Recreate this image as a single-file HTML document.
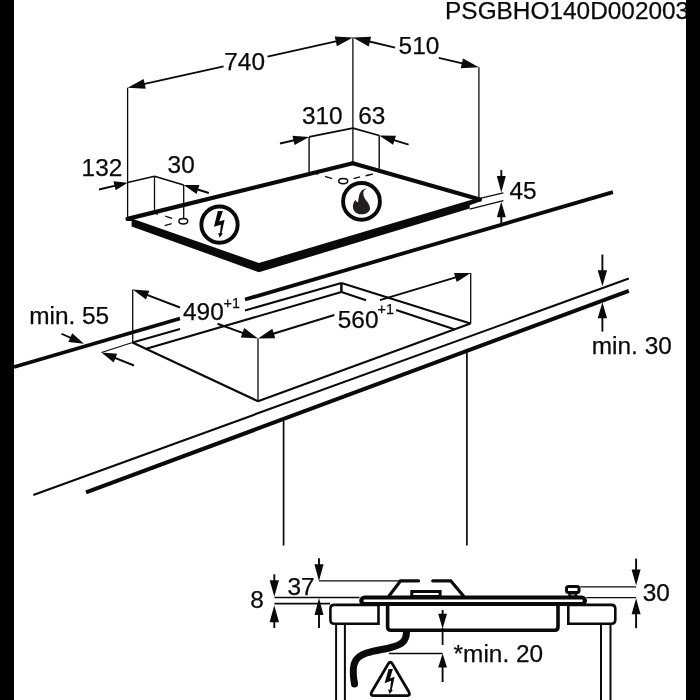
<!DOCTYPE html>
<html><head><meta charset="utf-8"><style>
html,body{margin:0;padding:0;background:#fff;width:700px;height:700px;overflow:hidden}
svg{position:absolute;left:0;top:0;will-change:transform}
text{font-family:"Liberation Sans",sans-serif}
</style></head><body>
<svg width="700" height="700" viewBox="0 0 700 700">
<g stroke="#0a0a0a" fill="none">
<text x="224.30" y="70.20" font-size="24.4" fill="#0a0a0a" stroke="#0a0a0a" stroke-width="0.25">740</text>
<line x1="223.60" y1="66.35" x2="137.85" y2="85.42" stroke-width="1.9" stroke-linecap="butt"/>
<polygon fill="#0a0a0a" stroke="none" points="127.60,87.70 143.60,79.02 145.77,88.78"/>
<line x1="267.50" y1="56.59" x2="342.65" y2="39.88" stroke-width="1.9" stroke-linecap="butt"/>
<polygon fill="#0a0a0a" stroke="none" points="352.90,37.60 336.90,46.28 334.73,36.52"/>
<text x="398.60" y="54.00" font-size="24.4" fill="#0a0a0a" stroke="#0a0a0a" stroke-width="0.25">510</text>
<line x1="395.10" y1="47.55" x2="363.12" y2="40.01" stroke-width="1.9" stroke-linecap="butt"/>
<polygon fill="#0a0a0a" stroke="none" points="352.90,37.60 371.08,36.75 368.79,46.48"/>
<line x1="438.80" y1="57.85" x2="468.68" y2="64.89" stroke-width="1.9" stroke-linecap="butt"/>
<polygon fill="#0a0a0a" stroke="none" points="478.90,67.30 460.72,68.15 463.01,58.42"/>
<line x1="127.60" y1="87.70" x2="127.60" y2="218.00" stroke-width="1.3" stroke-linecap="butt"/>
<line x1="352.90" y1="37.60" x2="352.90" y2="162.50" stroke-width="1.3" stroke-linecap="butt"/>
<line x1="478.90" y1="67.30" x2="478.90" y2="197.00" stroke-width="1.3" stroke-linecap="butt"/>
<text x="445.10" y="18.90" font-size="24.4" fill="#0a0a0a" stroke="#0a0a0a" stroke-width="0.25">PSGBHO140D002003</text>
<polygon fill="#0a0a0a" stroke="none" points="127.50,217.00 258.90,263.00 480.00,197.20 481.50,201.00 469.70,205.20 469.70,208.60 258.90,272.20 131.60,226.40 131.60,221.00 127.50,221.00"/>
<line x1="127.50" y1="218.90" x2="352.70" y2="163.20" stroke-width="4.2" stroke-linecap="round"/>
<line x1="352.70" y1="163.20" x2="480.00" y2="199.50" stroke-width="4.2" stroke-linecap="round"/>
<text x="81.60" y="176.10" font-size="24.4" fill="#0a0a0a" stroke="#0a0a0a" stroke-width="0.25">132</text>
<line x1="99.00" y1="189.50" x2="119.78" y2="184.56" stroke-width="1.9" stroke-linecap="butt"/>
<polygon fill="#0a0a0a" stroke="none" points="127.60,182.70 115.65,190.37 113.48,181.23"/>
<line x1="127.60" y1="182.50" x2="154.50" y2="176.20" stroke-width="1.6" stroke-linecap="butt"/>
<line x1="154.50" y1="176.20" x2="183.70" y2="185.00" stroke-width="1.6" stroke-linecap="butt"/>
<line x1="208.80" y1="193.00" x2="192.27" y2="187.73" stroke-width="1.9" stroke-linecap="butt"/>
<polygon fill="#0a0a0a" stroke="none" points="183.70,185.00 199.42,185.08 196.56,194.03"/>
<text x="167.60" y="173.40" font-size="24.4" fill="#0a0a0a" stroke="#0a0a0a" stroke-width="0.25">30</text>
<line x1="154.50" y1="176.20" x2="154.50" y2="210.00" stroke-width="1.3" stroke-linecap="butt"/>
<line x1="183.70" y1="185.00" x2="183.70" y2="218.40" stroke-width="1.3" stroke-linecap="butt"/>
<ellipse cx="183.3" cy="221.3" rx="4.4" ry="2.7" fill="none" stroke-width="1.5"/>
<line x1="165.30" y1="216.10" x2="172.10" y2="218.40" stroke-width="1.3" stroke-linecap="butt"/>
<line x1="164.70" y1="225.60" x2="171.60" y2="223.60" stroke-width="1.3" stroke-linecap="butt"/>
<line x1="155.60" y1="213.30" x2="157.90" y2="214.40" stroke-width="1.3" stroke-linecap="butt"/>
<circle cx="219.5" cy="224.6" r="18.15" fill="none" stroke-width="3.9"/>
<polygon fill="#0a0a0a" stroke="none" points="217.86,211.07 222.86,211.07 219.29,221.43 224.64,219.64 221.57,233.21 222.86,233.43 219.64,237.86 218.21,233.00 220.00,233.21 220.86,224.64 213.93,226.79"/>
<text x="301.90" y="124.10" font-size="24.4" fill="#0a0a0a" stroke="#0a0a0a" stroke-width="0.25">310</text>
<text x="358.30" y="124.10" font-size="24.4" fill="#0a0a0a" stroke="#0a0a0a" stroke-width="0.25">63</text>
<line x1="280.00" y1="143.50" x2="299.74" y2="139.02" stroke-width="1.9" stroke-linecap="butt"/>
<polygon fill="#0a0a0a" stroke="none" points="309.10,136.90 294.54,145.02 292.46,135.86"/>
<line x1="309.10" y1="136.90" x2="352.90" y2="128.10" stroke-width="1.7" stroke-linecap="butt"/>
<line x1="352.90" y1="128.10" x2="379.20" y2="135.50" stroke-width="1.7" stroke-linecap="butt"/>
<line x1="408.60" y1="144.60" x2="388.37" y2="138.34" stroke-width="1.9" stroke-linecap="butt"/>
<polygon fill="#0a0a0a" stroke="none" points="379.20,135.50 395.87,135.74 393.09,144.72"/>
<line x1="309.10" y1="136.90" x2="309.10" y2="172.50" stroke-width="1.4" stroke-linecap="butt"/>
<line x1="379.20" y1="135.50" x2="379.20" y2="168.80" stroke-width="1.4" stroke-linecap="butt"/>
<ellipse cx="343.2" cy="181.1" rx="4.5" ry="2.6" fill="none" stroke-width="1.5"/>
<line x1="325.00" y1="176.40" x2="332.10" y2="178.60" stroke-width="1.4" stroke-linecap="butt"/>
<line x1="316.50" y1="173.80" x2="317.80" y2="174.30" stroke-width="1.4" stroke-linecap="butt"/>
<line x1="353.60" y1="178.60" x2="360.00" y2="176.90" stroke-width="1.4" stroke-linecap="butt"/>
<line x1="365.70" y1="175.70" x2="372.90" y2="174.00" stroke-width="1.4" stroke-linecap="butt"/>
<circle cx="361.5" cy="201.4" r="18.4" fill="none" stroke-width="3.9"/>
<path fill="#231f20" stroke="none" d="M367.2,188.4 C363,189.5 362.5,193 364.5,197.8 C366,201 370,204 370,208.5 C370,212 366,214.3 361.3,214.3 C356.5,214.3 352.9,211 352.9,206.4 C352.9,203.5 354,201.5 355.6,199.7 C356,201.5 357,202.3 358.2,202.1 C358.5,198 359,193 362.1,190.3 C363.5,189 365.5,188.4 367.2,188.4 Z"/>
<line x1="480.00" y1="198.30" x2="503.40" y2="192.80" stroke-width="1.2" stroke-linecap="butt"/>
<line x1="469.70" y1="209.10" x2="503.40" y2="200.60" stroke-width="1.2" stroke-linecap="butt"/>
<line x1="501.30" y1="170.10" x2="501.30" y2="182.62" stroke-width="1.9" stroke-linecap="butt"/>
<polygon fill="#0a0a0a" stroke="none" points="501.30,192.40 496.80,176.10 505.80,176.10"/>
<line x1="501.30" y1="223.30" x2="501.30" y2="211.10" stroke-width="1.9" stroke-linecap="butt"/>
<polygon fill="#0a0a0a" stroke="none" points="501.30,201.80 505.80,217.30 496.80,217.30"/>
<text x="509.50" y="198.80" font-size="24.4" fill="#0a0a0a" stroke="#0a0a0a" stroke-width="0.25">45</text>
<line x1="14.00" y1="367.00" x2="180.00" y2="318.52" stroke-width="3.8" stroke-linecap="butt"/>
<line x1="245.00" y1="299.54" x2="612.90" y2="192.10" stroke-width="3.8" stroke-linecap="butt"/>
<line x1="132.50" y1="342.50" x2="180.00" y2="328.95" stroke-width="2.1" stroke-linecap="butt"/>
<line x1="245.00" y1="310.40" x2="341.40" y2="282.90" stroke-width="2.1" stroke-linecap="butt"/>
<line x1="341.40" y1="282.90" x2="470.50" y2="323.60" stroke-width="2.1" stroke-linecap="butt"/>
<line x1="132.50" y1="342.50" x2="258.00" y2="401.20" stroke-width="2.1" stroke-linecap="butt"/>
<line x1="258.00" y1="401.20" x2="470.50" y2="323.60" stroke-width="2.1" stroke-linecap="butt"/>
<line x1="146.25" y1="348.75" x2="341.40" y2="292.10" stroke-width="2.1" stroke-linecap="butt"/>
<line x1="341.40" y1="292.10" x2="366.10" y2="300.24" stroke-width="2.1" stroke-linecap="butt"/>
<line x1="396.10" y1="310.12" x2="454.30" y2="329.30" stroke-width="2.1" stroke-linecap="butt"/>
<line x1="341.40" y1="282.90" x2="341.40" y2="292.10" stroke-width="2.5" stroke-linecap="butt"/>
<line x1="132.70" y1="289.50" x2="132.70" y2="342.50" stroke-width="1.3" stroke-linecap="butt"/>
<line x1="258.00" y1="338.40" x2="258.00" y2="401.20" stroke-width="1.3" stroke-linecap="butt"/>
<line x1="470.70" y1="272.90" x2="470.70" y2="323.60" stroke-width="1.3" stroke-linecap="butt"/>
<text x="183.00" y="320.30" font-size="24.4" fill="#0a0a0a" stroke="#0a0a0a" stroke-width="0.25">490</text>
<text x="223.60" y="308.30" font-size="14.4" fill="#0a0a0a" stroke="#0a0a0a" stroke-width="0.25">+1</text>
<line x1="180.00" y1="307.50" x2="141.67" y2="292.91" stroke-width="1.9" stroke-linecap="butt"/>
<polygon fill="#0a0a0a" stroke="none" points="132.70,289.50 149.33,290.80 145.98,299.58"/>
<line x1="217.50" y1="323.75" x2="248.69" y2="335.03" stroke-width="1.9" stroke-linecap="butt"/>
<polygon fill="#0a0a0a" stroke="none" points="258.00,338.40 240.78,337.49 244.18,328.09"/>
<text x="337.80" y="327.50" font-size="24.4" fill="#0a0a0a" stroke="#0a0a0a" stroke-width="0.25">560</text>
<text x="377.50" y="314.30" font-size="14.4" fill="#0a0a0a" stroke="#0a0a0a" stroke-width="0.25">+1</text>
<line x1="334.30" y1="315.00" x2="267.46" y2="335.50" stroke-width="1.9" stroke-linecap="butt"/>
<polygon fill="#0a0a0a" stroke="none" points="258.00,338.40 272.31,328.78 275.24,338.34"/>
<line x1="379.90" y1="300.10" x2="461.50" y2="275.65" stroke-width="1.9" stroke-linecap="butt"/>
<polygon fill="#0a0a0a" stroke="none" points="470.70,272.90 456.72,281.99 454.02,272.99"/>
<text x="29.20" y="324.40" font-size="24.4" fill="#0a0a0a" stroke="#0a0a0a" stroke-width="0.25">min. 55</text>
<line x1="61.50" y1="333.75" x2="75.78" y2="340.09" stroke-width="1.9" stroke-linecap="butt"/>
<polygon fill="#0a0a0a" stroke="none" points="84.00,343.75 68.38,341.95 72.20,333.36"/>
<line x1="101.50" y1="352.50" x2="132.50" y2="342.50" stroke-width="1.3" stroke-linecap="butt"/>
<line x1="134.00" y1="365.50" x2="109.86" y2="355.84" stroke-width="1.9" stroke-linecap="butt"/>
<polygon fill="#0a0a0a" stroke="none" points="101.50,352.50 117.17,353.71 113.68,362.43"/>
<line x1="33.30" y1="494.90" x2="628.80" y2="278.60" stroke-width="2.1" stroke-linecap="butt"/>
<line x1="86.00" y1="492.30" x2="628.80" y2="290.80" stroke-width="4.1" stroke-linecap="butt"/>
<line x1="283.60" y1="420.70" x2="283.60" y2="545.60" stroke-width="1.7" stroke-linecap="butt"/>
<line x1="466.90" y1="352.50" x2="466.90" y2="545.60" stroke-width="1.7" stroke-linecap="butt"/>
<line x1="602.40" y1="254.50" x2="602.40" y2="276.70" stroke-width="1.9" stroke-linecap="butt"/>
<polygon fill="#0a0a0a" stroke="none" points="602.40,286.30 597.70,270.30 607.10,270.30"/>
<line x1="602.40" y1="331.60" x2="602.40" y2="311.80" stroke-width="1.9" stroke-linecap="butt"/>
<polygon fill="#0a0a0a" stroke="none" points="602.40,302.20 607.10,318.20 597.70,318.20"/>
<text x="591.80" y="353.75" font-size="24.4" fill="#0a0a0a" stroke="#0a0a0a" stroke-width="0.25">min. 30</text>
<text x="250.20" y="607.90" font-size="24.4" fill="#0a0a0a" stroke="#0a0a0a" stroke-width="0.25">8</text>
<text x="287.40" y="594.90" font-size="24.4" fill="#0a0a0a" stroke="#0a0a0a" stroke-width="0.25">37</text>
<line x1="274.30" y1="574.30" x2="274.30" y2="586.84" stroke-width="1.9" stroke-linecap="butt"/>
<polygon fill="#0a0a0a" stroke="none" points="274.30,596.80 269.70,580.20 278.90,580.20"/>
<line x1="274.30" y1="628.00" x2="274.30" y2="615.50" stroke-width="1.9" stroke-linecap="butt"/>
<polygon fill="#0a0a0a" stroke="none" points="274.30,605.30 279.00,622.30 269.60,622.30"/>
<line x1="319.00" y1="558.20" x2="319.00" y2="570.94" stroke-width="1.9" stroke-linecap="butt"/>
<polygon fill="#0a0a0a" stroke="none" points="319.00,580.90 314.40,564.30 323.60,564.30"/>
<line x1="319.00" y1="628.00" x2="319.00" y2="608.20" stroke-width="1.9" stroke-linecap="butt"/>
<polygon fill="#0a0a0a" stroke="none" points="319.00,598.00 323.50,615.00 314.50,615.00"/>
<line x1="319.00" y1="580.90" x2="399.00" y2="580.90" stroke-width="1.4" stroke-linecap="butt"/>
<line x1="274.50" y1="597.50" x2="359.50" y2="597.50" stroke-width="1.5" stroke-linecap="butt"/>
<line x1="274.50" y1="603.60" x2="330.00" y2="603.60" stroke-width="1.6" stroke-linecap="butt"/>
<rect x="361.3" y="597.5" width="223.6" height="6.5" rx="3.2" fill="none" stroke-width="4.2"/>
<polyline points="389.00,596.00 400.60,580.80 418.60,580.80" stroke-width="3.2" stroke-linecap="round" stroke-linejoin="miter"/>
<polyline points="432.70,580.80 450.70,580.80 463.50,596.00" stroke-width="3.2" stroke-linecap="round" stroke-linejoin="miter"/>
<rect x="411.8" y="591.5" width="28.3" height="5" fill="none" stroke-width="3"/>
<path d="M387.6,605 V627 Q387.6,630.2 390.8,630.2 H554.8 Q558,630.2 558,627 V605" stroke-width="3.6"/>
<path d="M378.5,604.9 H334.3 Q330.4,604.9 330.4,608.8 V619.8 Q330.4,623.7 334.3,623.7 H378.5 Z" stroke-width="2.6"/>
<path d="M568.3,604.9 H611.4 Q615.3,604.9 615.3,608.8 V619.8 Q615.3,623.7 611.4,623.7 H568.3 Z" stroke-width="2.6"/>
<line x1="336.10" y1="624.00" x2="336.10" y2="700.00" stroke-width="2.0" stroke-linecap="butt"/>
<line x1="344.90" y1="624.00" x2="344.90" y2="700.00" stroke-width="2.0" stroke-linecap="butt"/>
<line x1="601.00" y1="625.00" x2="601.00" y2="700.00" stroke-width="2.0" stroke-linecap="butt"/>
<line x1="610.50" y1="625.00" x2="610.50" y2="700.00" stroke-width="2.0" stroke-linecap="butt"/>
<rect x="566.5" y="586.5" width="12.5" height="6" rx="2" fill="none" stroke-width="3"/>
<rect x="569.6" y="593.2" width="6.4" height="3.6" fill="none" stroke-width="2.6"/>
<line x1="580.40" y1="586.90" x2="636.10" y2="586.90" stroke-width="1.3" stroke-linecap="butt"/>
<line x1="586.50" y1="597.60" x2="636.10" y2="597.60" stroke-width="1.3" stroke-linecap="butt"/>
<line x1="636.10" y1="558.60" x2="636.10" y2="575.80" stroke-width="1.9" stroke-linecap="butt"/>
<polygon fill="#0a0a0a" stroke="none" points="636.10,585.40 631.60,569.40 640.60,569.40"/>
<line x1="636.10" y1="628.20" x2="636.10" y2="607.80" stroke-width="1.9" stroke-linecap="butt"/>
<polygon fill="#0a0a0a" stroke="none" points="636.10,598.20 640.60,614.20 631.60,614.20"/>
<text x="642.80" y="600.90" font-size="24.4" fill="#0a0a0a" stroke="#0a0a0a" stroke-width="0.25">30</text>
<path d="M406.5,631.5 C406.5,642 401,645 389,648 C375,651 362,652 356,660 C352,666 353,676 354.5,684" stroke-width="7" stroke-linecap="butt"/>
<circle cx="354.5" cy="684" r="3.5" fill="#0a0a0a" stroke="none"/>
<line x1="388.90" y1="653.50" x2="442.60" y2="653.50" stroke-width="1.3" stroke-linecap="butt"/>
<line x1="442.60" y1="610.00" x2="442.60" y2="619.80" stroke-width="1.9" stroke-linecap="butt"/>
<polygon fill="#0a0a0a" stroke="none" points="442.60,628.80 438.20,613.80 447.00,613.80"/>
<line x1="442.60" y1="682.00" x2="442.60" y2="661.90" stroke-width="1.9" stroke-linecap="butt"/>
<polygon fill="#0a0a0a" stroke="none" points="442.60,653.50 447.00,667.50 438.20,667.50"/>
<line x1="442.60" y1="628.00" x2="442.60" y2="645.00" stroke-width="1.8" stroke-linecap="butt"/>
<text x="453.60" y="661.90" font-size="24.4" fill="#0a0a0a" stroke="#0a0a0a" stroke-width="0.25">*min. 20</text>
<path d="M388.2,663.9 Q390.3,660.6 392.4,663.9 L408.8,691.8 Q410.8,695.7 406.6,695.7 L373.9,695.7 Q369.7,695.7 371.8,691.8 Z" stroke-width="2.8" stroke-linejoin="round"/>
<polygon fill="#0a0a0a" stroke="none" points="388.60,668.90 392.90,668.90 390.00,678.60 394.60,676.80 391.80,690.00 392.90,690.00 389.60,693.90 388.00,689.30 390.00,689.90 391.10,680.70 384.60,683.20"/>
</g>
<rect x="0" y="0" width="14" height="700" fill="#000"/>
<rect x="686" y="0" width="14" height="700" fill="#000"/>
</svg></body></html>
